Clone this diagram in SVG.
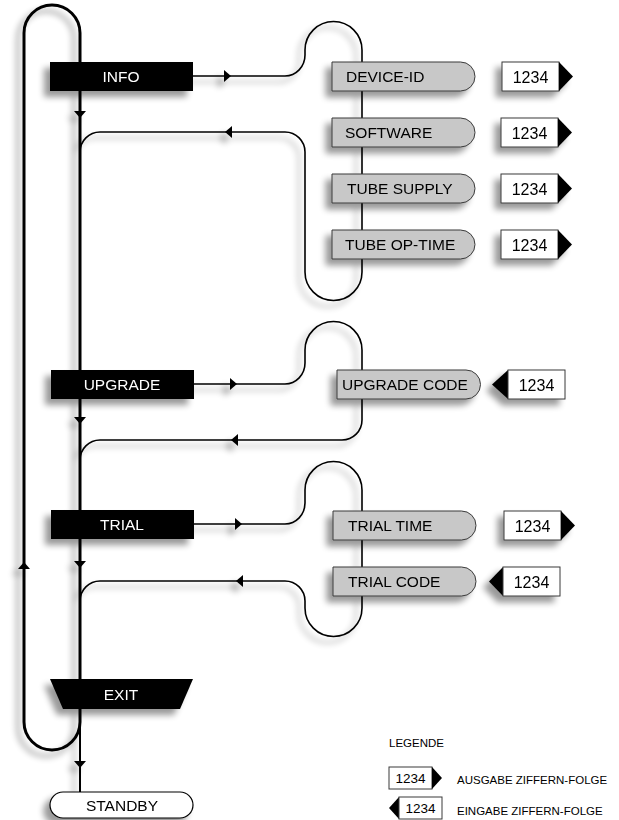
<svg xmlns="http://www.w3.org/2000/svg" width="619" height="820" viewBox="0 0 619 820">
  <defs>
    <filter id="shadow" filterUnits="userSpaceOnUse" x="-20" y="-20" width="660" height="860">
      <feGaussianBlur in="SourceAlpha" stdDeviation="3"/>
      <feOffset dx="-6" dy="6"/>
      <feComponentTransfer><feFuncA type="linear" slope="0.4"/></feComponentTransfer>
      <feMerge><feMergeNode/><feMergeNode in="SourceGraphic"/></feMerge>
    </filter>
    <!-- arrowhead pointing right, tip at origin -->
    <path id="ah" d="M-7,-6 L0,0 L-7,6 Z"/>
    <style>
      .thick { fill: none; stroke: #000; stroke-width: 3; }
      .thin { fill: none; stroke: #000; stroke-width: 1.6; }
      .blk { fill: #000; }
      .pill { fill: #c8c8c8; stroke: #3a3a3a; stroke-width: 1; }
      .num { fill: #fff; stroke: #3a3a3a; stroke-width: 1; }
      .tri { fill: #000; }
      .wt { font-family: "Liberation Sans", Arial, Helvetica, sans-serif; font-size: 15.5px; fill: #fff; text-anchor: middle; }
      .bt { font-family: "Liberation Sans", Arial, Helvetica, sans-serif; font-size: 15.5px; fill: #000; }
      .nt { font-family: "Liberation Sans", Arial, Helvetica, sans-serif; font-size: 16px; fill: #000; text-anchor: middle; }
      .lg { font-family: "Liberation Sans", Arial, Helvetica, sans-serif; font-size: 11.5px; fill: #000; }
      .ln { font-family: "Liberation Sans", Arial, Helvetica, sans-serif; font-size: 13.5px; fill: #000; text-anchor: middle; }
    </style>
  </defs>

  <g filter="url(#shadow)">
    <!-- connectors -->
    <g id="connectors">
      <!-- main loop and spine -->
      <path class="thick" d="M80,722 A28,28 0 0 1 24,722 V33 A28,28 0 0 1 80,33 V722"/>
      <path class="thin" d="M80,722 V792" style="stroke-width:2"/>
      <!-- INFO sub-loop -->
      <path class="thin" d="M193,76 H285 A20,21 0 0 0 305,55 V50 A28.5,28.5 0 0 1 362,50 V272 A28.5,28.5 0 0 1 305,272 V152 A20,20 0 0 0 285,132 H100 A20,20 0 0 0 80,152"/>
      <!-- UPGRADE sub-loop -->
      <path class="thin" d="M194,384 H285 A20,21 0 0 0 305,363 V350 A28.5,28.5 0 0 1 362,350 V420 A20,20 0 0 1 342,440 H100 A20,20 0 0 0 80,460"/>
      <!-- TRIAL sub-loop -->
      <path class="thin" d="M194,524 H285 A20,21 0 0 0 305,503 V490 A28.5,28.5 0 0 1 362,490 V608 A28.5,28.5 0 0 1 305,608 V601 A20,20 0 0 0 285,581 H100 A20,20 0 0 0 80,601"/>
      <!-- arrowheads -->
      <use href="#ah" class="blk" transform="translate(231,76)"/>
      <use href="#ah" class="blk" transform="translate(225,132) rotate(180)"/>
      <use href="#ah" class="blk" transform="translate(80,118) rotate(90)"/>
      <use href="#ah" class="blk" transform="translate(237,384)"/>
      <use href="#ah" class="blk" transform="translate(231,440) rotate(180)"/>
      <use href="#ah" class="blk" transform="translate(80,424) rotate(90)"/>
      <use href="#ah" class="blk" transform="translate(242,524)"/>
      <use href="#ah" class="blk" transform="translate(236,581) rotate(180)"/>
      <use href="#ah" class="blk" transform="translate(80,568) rotate(90)"/>
      <use href="#ah" class="blk" transform="translate(24,562) rotate(-90)"/>
      <use href="#ah" class="blk" transform="translate(80,768) rotate(90)"/>
    </g>

    <!-- menu nodes -->
    <g id="info">
      <rect class="blk" x="50" y="62" width="143" height="29"/>
      <text class="wt" x="121" y="82">INFO</text>
    </g>
    <g id="upgrade">
      <rect class="blk" x="51" y="370" width="143" height="29"/>
      <text class="wt" x="122" y="390">UPGRADE</text>
    </g>
    <g id="trial">
      <rect class="blk" x="51" y="510" width="143" height="29"/>
      <text class="wt" x="122" y="530">TRIAL</text>
    </g>
    <g id="exit">
      <path class="blk" d="M50,679 H193 L180,709 H63 Z"/>
      <text class="wt" x="121" y="700">EXIT</text>
    </g>
    <g id="standby">
      <rect x="50" y="792" width="143" height="26" rx="13" fill="#fff" stroke="#000" stroke-width="1.2"/>
      <text class="nt" x="122" y="811" style="font-size:15.5px">STANDBY</text>
    </g>

    <!-- info items -->
    <g id="device-id">
      <path class="pill" d="M332,62 H460.5 A14.5,14.5 0 0 1 460.5,91 H332 Z"/>
      <text class="bt" x="346" y="82">DEVICE-ID</text>
      <rect class="num" x="502" y="62" width="57" height="29"/>
      <path class="tri" d="M559,62 L573,76.5 L559,91 Z"/>
      <text class="nt" x="530.5" y="82.5">1234</text>
    </g>
    <g id="software">
      <path class="pill" d="M332,118 H460.5 A14.5,14.5 0 0 1 460.5,147 H332 Z"/>
      <text class="bt" x="345" y="138">SOFTWARE</text>
      <rect class="num" x="501" y="118" width="57" height="29"/>
      <path class="tri" d="M558,118 L572,132.5 L558,147 Z"/>
      <text class="nt" x="529.5" y="138.5">1234</text>
    </g>
    <g id="tube-supply">
      <path class="pill" d="M332,174 H460.5 A14.5,14.5 0 0 1 460.5,203 H332 Z"/>
      <text class="bt" x="347" y="194">TUBE SUPPLY</text>
      <rect class="num" x="501" y="174" width="57" height="29"/>
      <path class="tri" d="M558,174 L572,188.5 L558,203 Z"/>
      <text class="nt" x="529.5" y="194.5">1234</text>
    </g>
    <g id="tube-op-time">
      <path class="pill" d="M332,230 H460.5 A14.5,14.5 0 0 1 460.5,259 H332 Z"/>
      <text class="bt" x="345" y="250">TUBE OP-TIME</text>
      <rect class="num" x="501" y="230" width="57" height="29"/>
      <path class="tri" d="M558,230 L572,244.5 L558,259 Z"/>
      <text class="nt" x="529.5" y="250.5">1234</text>
    </g>

    <!-- upgrade item -->
    <g id="upgrade-code">
      <path class="pill" d="M337,370 H466 A14.5,14.5 0 0 1 466,399 H337 Z"/>
      <text class="bt" x="342" y="390">UPGRADE CODE</text>
      <path class="tri" d="M508,370 L492,384.5 L508,399 Z"/>
      <rect class="num" x="508" y="370" width="57" height="29"/>
      <text class="nt" x="536.5" y="390.5">1234</text>
    </g>

    <!-- trial items -->
    <g id="trial-time">
      <path class="pill" d="M333,511 H461.5 A14.5,14.5 0 0 1 461.5,540 H333 Z"/>
      <text class="bt" x="348" y="531">TRIAL TIME</text>
      <rect class="num" x="504" y="511" width="57" height="29"/>
      <path class="tri" d="M561,511 L575,525.5 L561,540 Z"/>
      <text class="nt" x="532.5" y="531.5">1234</text>
    </g>
    <g id="trial-code">
      <path class="pill" d="M333,567 H461.5 A14.5,14.5 0 0 1 461.5,596 H333 Z"/>
      <text class="bt" x="348" y="587">TRIAL CODE</text>
      <path class="tri" d="M503,567 L489,581.5 L503,596 Z"/>
      <rect class="num" x="503" y="567" width="57" height="29"/>
      <text class="nt" x="531.5" y="587.5">1234</text>
    </g>
  </g>

  <!-- legend -->
  <g id="legend">
    <text class="lg" x="389" y="747">LEGENDE</text>
    <rect class="num" x="389" y="767" width="43" height="22"/>
    <path class="tri" d="M432,767 L442,778 L432,789 Z"/>
    <text class="ln" x="410.5" y="783">1234</text>
    <text class="lg" x="457" y="784">AUSGABE ZIFFERN-FOLGE</text>
    <path class="tri" d="M399,797 L389,808 L399,819 Z"/>
    <rect class="num" x="399" y="797" width="43" height="22"/>
    <text class="ln" x="420.5" y="813">1234</text>
    <text class="lg" x="457" y="815">EINGABE ZIFFERN-FOLGE</text>
  </g>
</svg>
